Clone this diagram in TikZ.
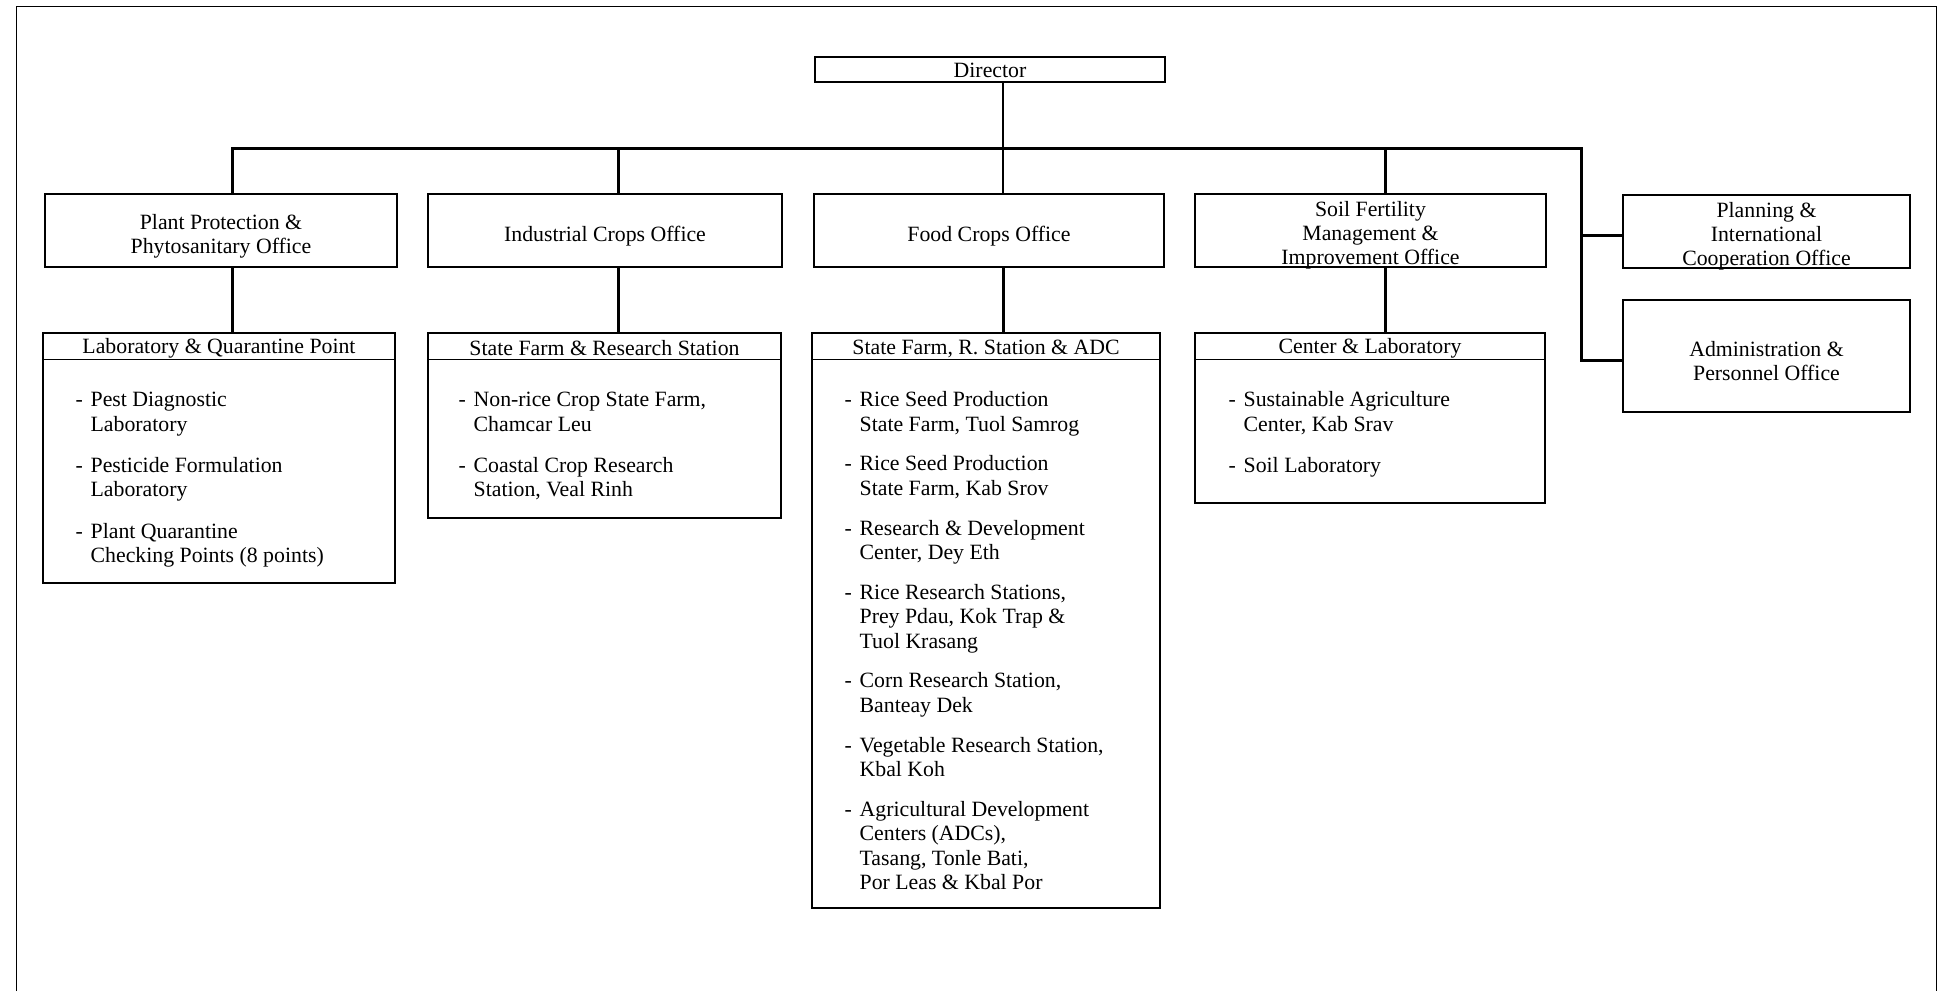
\documentclass[tikz,border=0pt]{standalone}
\usepackage{fontspec}
\setmainfont{Liberation Serif}
\begin{document}
\begin{tikzpicture}[x=1pt,y=-1pt,
  txt/.style={font=\fontsize{21.8}{24}\selectfont},
  box/.style={draw, line width=1.1pt, inner sep=0pt},
  label text/.style={txt, inner sep=0pt, align=center},
  head/.style={txt, inner sep=0pt},
  listnode/.style={font=\fontsize{21.8}{24.4}\selectfont, inner sep=0pt, anchor=north west},
  rule/.style={line width=1.1pt},
  link/.style={line width=3pt, line cap=rect},
  stem/.style={line width=1.8pt},
  frame/.style={line width=1pt}
]
\useasboundingbox (0,0) rectangle (1946,991);

% page frame
\draw[frame] (16,991) -- (16,6) -- (1936,6) -- (1936,991);

% top level
\node[box, minimum width=350pt, minimum height=25pt] (dir) at (990,69.5) {};
\node[label text] (dirt) at ([yshift=-1pt]dir.center) {Director};

% offices
\node[box, minimum width=352pt, minimum height=73pt] (pp) at (221,230.5) {};
\node[box, minimum width=354pt, minimum height=73pt] (ic) at (605,230.5) {};
\node[box, minimum width=350pt, minimum height=73pt] (fc) at (989,230.5) {};
\node[box, minimum width=351pt, minimum height=73pt] (sf) at (1370.5,230.5) {};
\node[box, minimum width=287pt, minimum height=73pt] (plan) at (1766.5,231.5) {};
\node[box, minimum width=287pt, minimum height=112pt] (adm) at (1766.5,356) {};

\node[label text] (ppt) at ([yshift=-6pt]pp.center) {Plant Protection \&\\Phytosanitary Office};
\node[label text] (ict) at ([yshift=-6pt]ic.center) {Industrial Crops Office};
\node[label text] (fct) at ([yshift=-6pt]fc.center) {Food Crops Office};
\node[label text] (sft) at ([yshift=-5pt]sf.center) {Soil Fertility\\Management \&\\Improvement Office};
\node[label text] (plant) at ([yshift=-5pt]plan.center) {Planning \&\\International\\Cooperation Office};
\node[label text] (admt) at ([yshift=-5pt]adm.center) {Administration \&\\Personnel Office};

% units under each office
\node[box, minimum width=352pt, minimum height=250pt] (lq) at (219,458) {};
\node[box, minimum width=353pt, minimum height=185pt] (sfrs) at (604.5,425.5) {};
\node[box, minimum width=348pt, minimum height=575pt] (sfra) at (986,620.5) {};
\node[box, minimum width=350pt, minimum height=170pt] (cl) at (1370,418) {};

\foreach \b/\t in {lq/Laboratory \& Quarantine Point, sfrs/State Farm \& Research Station,
                   sfra/{State Farm, R. Station \& ADC}, cl/Center \& Laboratory}{
  \node[head] (\b h) at ([yshift=-16pt]\b.north) {\t};
  \draw[rule] ([yshift=-27pt]\b.north west) -- ([yshift=-27pt]\b.north east);
}

\node[listnode] (lql) at ([xshift=33pt,yshift=-57pt]lq.north west) {%
\begin{tabular}{@{}p{15pt}@{}l@{}}
-&Pest Diagnostic\\ &Laboratory\\[17pt]
-&Pesticide Formulation\\ &Laboratory\\[17pt]
-&Plant Quarantine\\ &Checking Points (8 points)
\end{tabular}};

\node[listnode] (sfrsl) at ([xshift=31pt,yshift=-57pt]sfrs.north west) {%
\begin{tabular}{@{}p{15pt}@{}l@{}}
-&Non-rice Crop State Farm,\\ &Chamcar Leu\\[17pt]
-&Coastal Crop Research\\ &Station, Veal Rinh
\end{tabular}};

\node[listnode] (sfral) at ([xshift=33pt,yshift=-57pt]sfra.north west) {%
\begin{tabular}{@{}p{15pt}@{}l@{}}
-&Rice Seed Production\\ &State Farm, Tuol Samrog\\[15.4pt]
-&Rice Seed Production\\ &State Farm, Kab Srov\\[15.4pt]
-&Research \& Development\\ &Center, Dey Eth\\[15.4pt]
-&Rice Research Stations,\\ &Prey Pdau, Kok Trap \&\\ &Tuol Krasang\\[15.4pt]
-&Corn Research Station,\\ &Banteay Dek\\[15.4pt]
-&Vegetable Research Station,\\ &Kbal Koh\\[15.4pt]
-&Agricultural Development\\ &Centers (ADCs),\\ &Tasang, Tonle Bati,\\ &Por Leas \& Kbal Por
\end{tabular}};

\node[listnode] (cll) at ([xshift=34pt,yshift=-57pt]cl.north west) {%
\begin{tabular}{@{}p{15pt}@{}l@{}}
-&Sustainable Agriculture\\ &Center, Kab Srav\\[17pt]
-&Soil Laboratory
\end{tabular}};

% bus and drop points
\coordinate (d1) at (232,148);
\coordinate (d2) at (618,148);
\coordinate (d3) at (1003,148);
\coordinate (d4) at (1385,148);
\coordinate (d5) at (1581,148);
\coordinate (planin) at ([yshift=-4pt]plan.west);
\coordinate (admin) at ([yshift=-4pt]adm.west);

\draw[stem] (d3 |- dir.south) -- (d3);
\draw[link, line cap=butt] (d1 |- pp.north) -- (d1) -- (d5) -- (d5 |- admin) -- (admin);
\draw[link] (d5 |- planin) -- (planin);
\draw[link] (d2) -- (d2 |- ic.north);
\draw[stem] (d3) -- (d3 |- fc.north);
\draw[link] (d4) -- (d4 |- sf.north);

% office to unit
\draw[link] (d1 |- pp.south) -- (d1 |- lq.north);
\draw[link] (d2 |- ic.south) -- (d2 |- sfrs.north);
\draw[link] (d3 |- fc.south) -- (d3 |- sfra.north);
\draw[link] (d4 |- sf.south) -- (d4 |- cl.north);
\end{tikzpicture}
\end{document}
